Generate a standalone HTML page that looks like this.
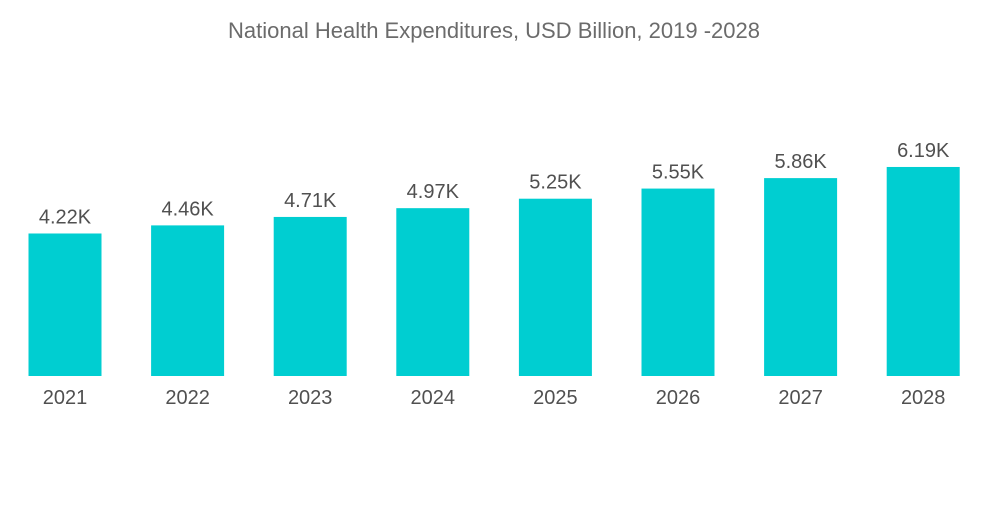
<!DOCTYPE html>
<html><head><meta charset="utf-8"><style>
body{margin:0;background:#fff;width:1000px;height:504px;overflow:hidden;font-family:"Liberation Sans",sans-serif}
</style></head><body>
<svg id="chart" width="1000" height="504" xmlns="http://www.w3.org/2000/svg">
<text x="494" y="38" text-anchor="middle" font-size="22" fill="#6b6b6b" font-family="Liberation Sans, sans-serif">National Health Expenditures, USD Billion, 2019 -2028</text>
<g id="bars"></g>
</svg>
<script>
const categories = ["2021","2022","2023","2024","2025","2026","2027","2028"];
const values = [4.22,4.46,4.71,4.97,5.25,5.55,5.86,6.19];
const labels = ["4.22K","4.46K","4.71K","4.97K","5.25K","5.55K","5.86K","6.19K"];
const baseY = 376, pxPerUnit = 33.77, x0 = 65, step = 122.6, bw = 73;
const xs = i => x0 + i*step;
const ys = v => baseY - v*pxPerUnit;
const g = document.getElementById('bars');
const NS = "http://www.w3.org/2000/svg";
categories.forEach((c,i)=>{
  const r = document.createElementNS(NS,'rect');
  
  
  r.setAttribute('x', xs(i)-bw/2);
  r.setAttribute('y', ys(values[i]));
  r.setAttribute('width', bw);
  r.setAttribute('height', baseY - ys(values[i]));
  r.setAttribute('fill', '#00CED1');
  g.appendChild(r);
  const t = document.createElementNS(NS,'text');
  
  
  t.setAttribute('x', xs(i));
  t.setAttribute('y', ys(values[i]) - 10);
  t.setAttribute('text-anchor','middle');
  t.setAttribute('font-size','20');
  t.setAttribute('fill','#505050');
  t.textContent = labels[i];
  g.appendChild(t);
  const a = document.createElementNS(NS,'text');
  
  
  a.setAttribute('x', xs(i));
  a.setAttribute('y', 404);
  a.setAttribute('text-anchor','middle');
  a.setAttribute('font-size','20');
  a.setAttribute('fill','#505050');
  a.textContent = c;
  g.appendChild(a);
});
</script>
</body></html>
